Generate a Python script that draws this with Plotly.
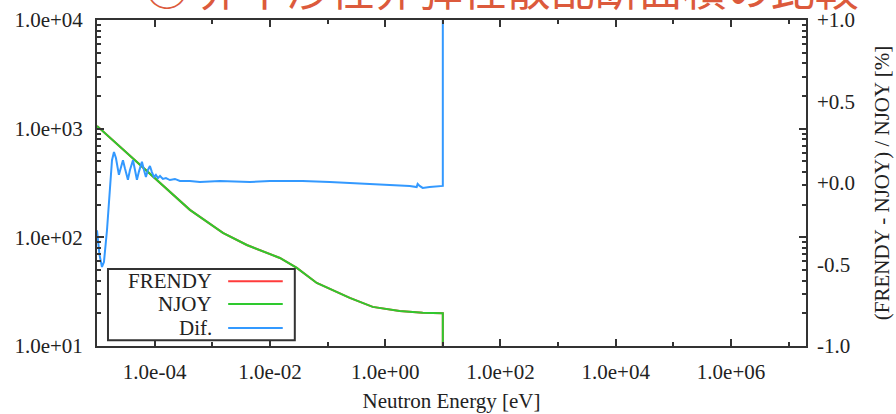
import plotly.graph_objects as go

# ---------------- data ----------------
# NJOY / FRENDY cross section [barn] vs neutron energy [eV]
xs_energy = [1e-5, 3.05e-5, 8.97e-5, 4.09e-4, 1.53e-3, 3.98e-3, 1.49e-2, 2.93e-2,
             6.5e-2, 0.243, 0.607, 1.78, 4.47, 10.0, 10.0]
njoy_xs = [1059, 624, 375, 179, 110, 85, 64.6, 52.3, 38.0, 27.7, 22.9, 21.0, 20.2, 20.0, 1e-3]
frendy_xs = [1059, 624, 375, 179, 110, 85, 64.6, 52.3, 38.0, 27.7, 22.9, 21.0, 20.2, 20.0, 1e-3]

# relative difference [%]
dif_energy = [1e-5, 1.104e-5, 1.22e-5, 1.32e-5, 1.49e-5, 1.68e-5, 1.82e-5, 1.97e-5, 2.13e-5,
              2.40e-5, 2.61e-5, 2.82e-5, 3.05e-5, 3.44e-5, 3.73e-5, 4.21e-5, 4.56e-5, 4.93e-5,
              5.34e-5, 6.02e-5, 6.53e-5, 7.06e-5, 7.65e-5, 8.29e-5, 8.97e-5, 9.72e-5, 1.05e-4,
              1.14e-4, 1.24e-4, 1.39e-4, 1.57e-4, 1.84e-4, 2.25e-4, 2.74e-4, 4.09e-4, 6.1e-4,
              1.36e-3, 4.49e-3, 1.0e-2, 3.7e-2, 0.109, 0.243, 0.539, 1.2, 2.66, 3.52, 3.66,
              3.96, 4.47, 5.9, 9.5, 10.0, 10.0]
dif_pct = [-0.29, -0.44, -0.515, -0.485, -0.29, -0.01, 0.14, 0.19, 0.153,
           0.05, 0.105, 0.14, 0.09, 0.02, 0.08, 0.14, 0.08, 0.02,
           0.07, 0.13, 0.08, 0.037, 0.08, 0.104, 0.067, 0.037, 0.05,
           0.03, 0.043, 0.025, 0.03, 0.018, 0.025, 0.012, 0.012, 0.006,
           0.012, 0.006, 0.012, 0.012, 0.006, 0.0, -0.006, -0.012, -0.018, -0.025, -0.006,
           -0.018, -0.03, -0.025, -0.018, -0.018, 100.0]

series_names = ["FRENDY", "NJOY", "Dif."]
series_colors = ["#ff3b3b", "#2ec92e", "#3399ff"]

x_tickvals = [1e-4, 1e-2, 1e0, 1e2, 1e4, 1e6]
x_ticktext = ["1.0e-04", "1.0e-02", "1.0e+00", "1.0e+02", "1.0e+04", "1.0e+06"]
x_minorvals = [1e-3, 1e-1, 1e1, 1e3, 1e5, 1e7]
y_tickvals = [1e1, 1e2, 1e3, 1e4]
y_ticktext = ["1.0e+01", "1.0e+02", "1.0e+03", "1.0e+04"]
y_minorvals = [m * 10 ** d for d in (1, 2, 3) for m in range(2, 10)]
y2_tickvals = [-1.0, -0.5, 0.0, 0.5, 1.0]
y2_ticktext = ["-1.0", "-0.5", "+0.0", "+0.5", "+1.0"]

title_text = "○ 非干渉性非弾性散乱断面積の比較"

# ---------------- figure ----------------
FONT = "Liberation Serif"
FS = 21
AX = "#333333"
fig = go.Figure()
fig.add_trace(go.Scatter(x=xs_energy, y=frendy_xs, mode="lines", name=series_names[0],
                         line=dict(color=series_colors[0], width=2), showlegend=False))
fig.add_trace(go.Scatter(x=xs_energy, y=njoy_xs, mode="lines", name=series_names[1],
                         line=dict(color=series_colors[1], width=2), showlegend=False))
fig.add_trace(go.Scatter(x=dif_energy, y=dif_pct, mode="lines", name=series_names[2],
                         line=dict(color=series_colors[2], width=2), yaxis="y2",
                         showlegend=False))

fig.update_layout(
    width=896, height=414,
    margin=dict(l=97, r=90, t=20, b=68, autoexpand=False),
    paper_bgcolor="white", plot_bgcolor="white",
    font=dict(family=FONT, size=FS, color="#222222"),
    showlegend=False,
    xaxis=dict(type="log", range=[-5, 7.30103], showgrid=False, zeroline=False,
               automargin=False,
               showline=True, linecolor=AX, linewidth=2, mirror="ticks",
               ticks="inside", ticklen=7, tickwidth=1.5, tickcolor=AX,
               tickmode="array", tickvals=x_tickvals, ticktext=x_ticktext,
               ticklabelstandoff=6,
               minor=dict(tickmode="array", tickvals=x_minorvals, ticks="inside",
                          ticklen=4, tickwidth=1.5, tickcolor=AX, showgrid=False),
               title=dict(text="Neutron Energy [eV]", standoff=10,
                          font=dict(family=FONT, size=FS))),
    yaxis=dict(type="log", range=[1, 4], showgrid=False, zeroline=False,
               automargin=False,
               showline=True, linecolor=AX, linewidth=2, mirror="ticks",
               ticks="inside", ticklen=7, tickwidth=1.5, tickcolor=AX,
               tickmode="array", tickvals=y_tickvals, ticktext=y_ticktext,
               ticklabelstandoff=8,
               minor=dict(tickmode="array", tickvals=y_minorvals, ticks="inside",
                          ticklen=4, tickwidth=1.5, tickcolor=AX, showgrid=False)),
    yaxis2=dict(overlaying="y", side="right", range=[-1, 1], showgrid=False,
                automargin=False,
                zeroline=False, showline=False, ticks="", tickmode="array",
                tickvals=y2_tickvals, ticktext=y2_ticktext, ticklabelstandoff=10,
                title=dict(text="(FRENDY - NJOY) / NJOY [%]", standoff=20,
                           font=dict(family=FONT, size=FS))),
)

# hand-built key (text on the left, line sample on the right, as in the reference)
fig.add_shape(type="rect", xref="paper", yref="paper", x0=0.0155, x1=0.279, y0=0.018,
              y1=0.236, line=dict(color=AX, width=2), fillcolor="white", layer="above")
row_y = [0.199, 0.129, 0.055]
for name, color, yy in zip(series_names, series_colors, row_y):
    fig.add_annotation(xref="paper", yref="paper", x=0.165, y=yy, text=name,
                       showarrow=False, xanchor="right", yanchor="middle",
                       font=dict(family=FONT, size=FS, color="#222222"))
    fig.add_shape(type="line", xref="paper", yref="paper", x0=0.185, x1=0.262,
                  y0=yy, y1=yy, line=dict(color=color, width=2), layer="above")

# clipped slide heading at the very top
fig.add_annotation(xref="paper", yref="paper", x=0.0645, y=1, xanchor="left",
                   yanchor="middle", yshift=33, text=title_text, showarrow=False,
                   font=dict(family="Noto Sans CJK JP", size=44, color="#dc5a3c"))

fig.write_html("out.html", config={"displayModeBar": False},
               post_script="document.body.style.margin='0px';"
                           "document.body.style.overflow='hidden';")
